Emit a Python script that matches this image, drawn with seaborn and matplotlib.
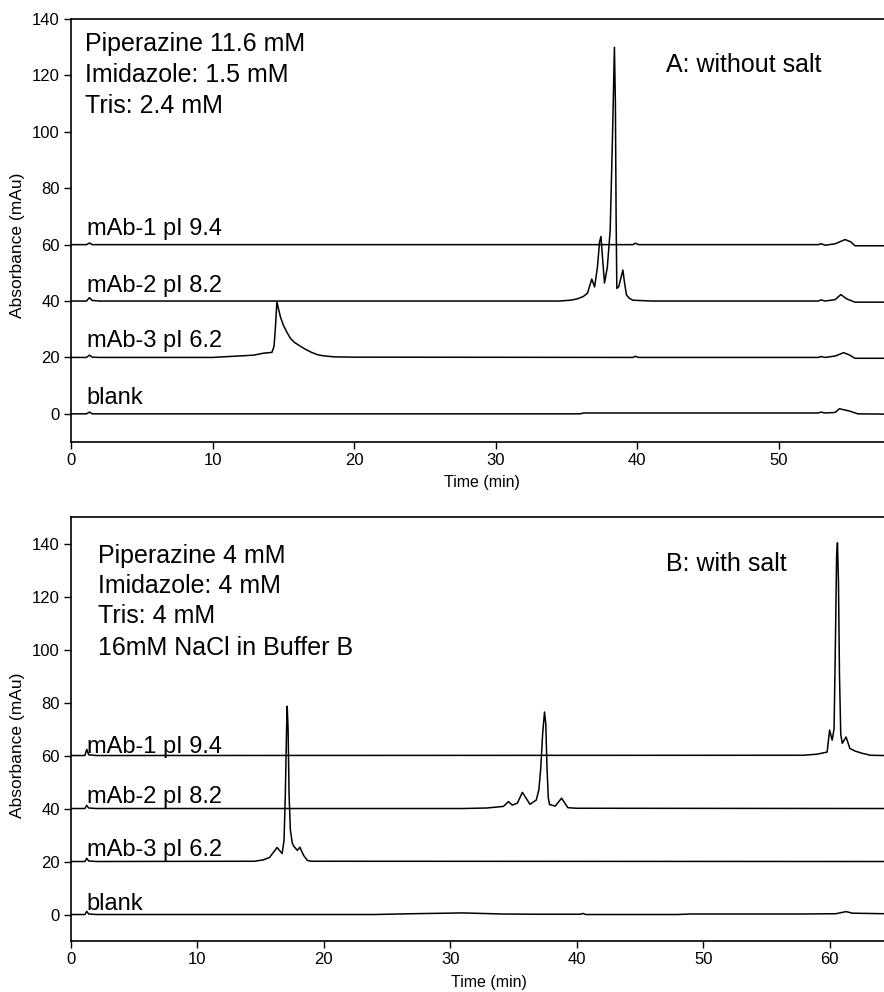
import numpy as np
import pandas as pd
import matplotlib
matplotlib.use("Agg")
import matplotlib.pyplot as plt
import seaborn as sns

# ---- panel A: without salt (time in min, absorbance in mAu, traces offset) ----
a_mab1_t = [0, 1.1, 1.3, 1.5, 39.7, 39.9, 40.1, 52.8, 53.0, 53.3, 54.0, 54.7, 55.1, 55.4, 57.5]
a_mab1_y = [60, 60, 60.6, 60, 60, 60.5, 60, 60, 60.3, 59.8, 60.3, 61.8, 61.0, 59.6, 59.6]

a_mab2_t = [0, 1.1, 1.3, 1.5, 2.0, 34.5, 35.3, 35.8, 36.2, 36.5, 36.8, 37.0, 37.2,
            37.35, 37.45, 37.55, 37.7, 37.9, 38.1, 38.25, 38.4, 38.47, 38.52, 38.57,
            38.7, 38.85, 39.0, 39.1, 39.25, 39.45, 39.7, 41.0, 52.8, 53.0, 53.3,
            54.0, 54.4, 54.8, 55.4, 57.5]
a_mab2_y = [40, 40, 41.2, 40.2, 40, 40, 40.3, 40.8, 41.6, 42.8, 47.8, 45.0, 52.0,
            61.0, 62.9, 56.0, 46.4, 52.0, 65.0, 95.0, 130.0, 110.0, 70.0, 44.5,
            45.0, 48.0, 51.0, 47.0, 42.2, 41.0, 40.3, 40, 40, 40.4, 40,
            40.5, 42.3, 40.8, 39.6, 39.6]

a_mab3_t = [0, 1.1, 1.3, 1.5, 2.0, 10.0, 12.9, 13.6, 14.2, 14.35, 14.45, 14.55, 14.65,
            14.8, 15.0, 15.25, 15.5, 15.8, 16.2, 16.6, 17.0, 17.4, 17.8, 18.6, 20.0,
            39.7, 39.9, 40.1, 52.8, 53.0, 53.3, 54.0, 54.6, 55.0, 55.4, 57.5]
a_mab3_y = [20, 20, 20.8, 20.1, 20, 20, 20.8, 21.5, 21.8, 24.0, 31.0, 39.7, 37.5,
            34.4, 31.5, 29.0, 26.8, 25.3, 24.0, 22.8, 21.8, 21.0, 20.6, 20.2, 20.1,
            20, 20.4, 20, 20, 20.3, 20, 20.5, 21.7, 20.9, 19.7, 19.7]

a_blank_t = [0, 1.1, 1.3, 1.5, 36.0, 36.2, 52.8, 53.0, 53.3, 54.0, 54.3, 55.0, 55.6, 57.5]
a_blank_y = [0, 0, 0.6, 0, 0, 0.3, 0.3, 0.6, 0.3, 0.5, 1.8, 1.0, 0, -0.1]

# ---- panel B: with salt ----
b_mab1_t = [0, 1.1, 1.25, 1.4, 2.0, 57.9, 59.0, 59.8, 60.0, 60.2, 60.35, 60.45, 60.55,
            60.62, 60.7, 60.78, 60.88, 61.0, 61.3, 61.6, 62.0, 62.6, 62.9, 63.2, 64.3]
b_mab1_y = [60, 60, 62.3, 60.3, 60, 60.1, 60.5, 61.3, 69.6, 65.8, 70.0, 100.0, 135.0,
            140.3, 125.0, 90.0, 68.0, 64.6, 67.0, 62.7, 61.7, 60.8, 60.5, 60.1, 60]

b_mab2_t = [0, 1.1, 1.25, 1.4, 2.0, 31.0, 32.9, 34.2, 34.6, 34.9, 35.3, 35.7,
            36.3, 36.8, 37.0, 37.15, 37.3, 37.45, 37.55, 37.65, 37.75, 37.85, 38.3,
            38.8, 39.3, 40.0, 64.3]
b_mab2_y = [40, 40, 41.2, 40.2, 40, 40, 40.2, 40.8, 42.6, 41.3, 42.0, 46.1,
            41.6, 43.2, 47.0, 55.0, 68.0, 76.4, 72.0, 55.0, 44.0, 41.5, 40.9,
            43.9, 40.3, 40.1, 40]

b_mab3_t = [0, 1.1, 1.25, 1.4, 2.0, 14.5, 15.2, 15.7, 16.3, 16.7, 16.85, 16.95, 17.05,
            17.1, 17.17, 17.25, 17.35, 17.5, 17.6, 17.9, 18.1, 18.4, 18.7, 19.0, 64.3]
b_mab3_y = [20, 20, 21.2, 20.2, 20, 20.1, 20.6, 21.5, 25.3, 23.0, 28.0, 45.0, 70.0,
            78.6, 70.0, 45.0, 32.0, 27.0, 25.9, 24.2, 25.4, 22.3, 20.4, 20.1, 20]

b_blank_t = [0, 1.1, 1.25, 1.4, 2.0, 24.0, 27.0, 31.0, 34.0, 37.0, 40.3, 40.5,
             40.7, 48.0, 49.0, 58.0, 60.5, 61.3, 61.8, 64.3]
b_blank_y = [0, 0, 1.2, 0.2, 0, 0, 0.3, 0.6, 0.2, 0.1, 0.1, 0.4,
             0, 0, 0.2, 0.2, 0.3, 1.1, 0.5, 0.3]

trace_labels = ["mAb-1 pI 9.4", "mAb-2 pI 8.2", "mAb-3 pI 6.2", "blank"]
a_label_y = [63.5, 43.3, 23.8, 3.5]
b_label_y = [61.0, 42.0, 22.0, 1.6]

a_notes = ["Piperazine 11.6 mM", "Imidazole: 1.5 mM", "Tris: 2.4 mM"]
b_notes = ["Piperazine 4 mM", "Imidazole: 4 mM", "Tris: 4 mM", "16mM NaCl in Buffer B"]

sns.set_theme(style="ticks")
plt.rcParams["font.family"] = ["Liberation Sans", "DejaVu Sans"]
plt.rcParams["text.color"] = "black"
plt.rcParams["axes.labelcolor"] = "black"

fig = plt.figure(figsize=(8.84, 9.92), dpi=100)
ax_a = fig.add_axes([0.0803, 0.5544, 0.9197, 0.4264])
ax_b = fig.add_axes([0.0803, 0.0514, 0.9197, 0.4274])

panels = [
    (ax_a, [(a_mab1_t, a_mab1_y), (a_mab2_t, a_mab2_y), (a_mab3_t, a_mab3_y), (a_blank_t, a_blank_y)],
     (0, 57.45), (-10, 140), [0, 20, 40, 60, 80, 100, 120, 140], [0, 10, 20, 30, 40, 50]),
    (ax_b, [(b_mab1_t, b_mab1_y), (b_mab2_t, b_mab2_y), (b_mab3_t, b_mab3_y), (b_blank_t, b_blank_y)],
     (0, 64.3), (-10, 150), [0, 20, 40, 60, 80, 100, 120, 140], [0, 10, 20, 30, 40, 50, 60]),
]

for ax, traces, xlim, ylim, yticks, xticks in panels:
    for t, y in traces:
        df = pd.DataFrame({"t": t, "y": y})
        sns.lineplot(data=df, x="t", y="y", ax=ax, color="black", lw=1.1,
                     estimator=None, sort=False)
    ax.set_xlim(*xlim)
    ax.set_ylim(*ylim)
    ax.set_xticks(xticks)
    ax.set_yticks(yticks)
    ax.tick_params(axis="both", direction="out", length=5, width=1, pad=3,
                   labelsize=12, colors="black")
    for side in ["left", "bottom", "top"]:
        ax.spines[side].set_linewidth(1.2)
        ax.spines[side].set_color("black")
    ax.spines["right"].set_visible(False)
    ax.set_xlabel("Time (min)", fontsize=11.5)
    ax.set_ylabel("Absorbance (mAu)", fontsize=12.5)

ax_a.xaxis.set_label_coords(0.505, -0.078)
ax_b.xaxis.set_label_coords(0.514, -0.081)
ax_a.yaxis.set_label_coords(-0.056, 0.466)
ax_b.yaxis.set_label_coords(-0.056, 0.462)

# trace labels
for lab, ya in zip(trace_labels, a_label_y):
    ax_a.text(1.1, ya, lab, fontsize=17, va="baseline", ha="left")
for lab, yb in zip(trace_labels, b_label_y):
    ax_b.text(1.25, yb, lab, fontsize=17, va="baseline", ha="left")

# buffer notes
for note, yf in zip(a_notes, [0.925, 0.852, 0.778]):
    ax_a.text(0.0172, yf, note, transform=ax_a.transAxes, fontsize=18, va="baseline")
for note, yf in zip(b_notes, [0.892, 0.821, 0.750, 0.675]):
    ax_b.text(0.0332, yf, note, transform=ax_b.transAxes, fontsize=18, va="baseline")

ax_a.text(0.732, 0.874, "A: without salt", transform=ax_a.transAxes, fontsize=18, va="baseline")
ax_b.text(0.732, 0.873, "B: with salt", transform=ax_b.transAxes, fontsize=18, va="baseline")

fig.savefig("out.png", dpi=100, facecolor="white")
